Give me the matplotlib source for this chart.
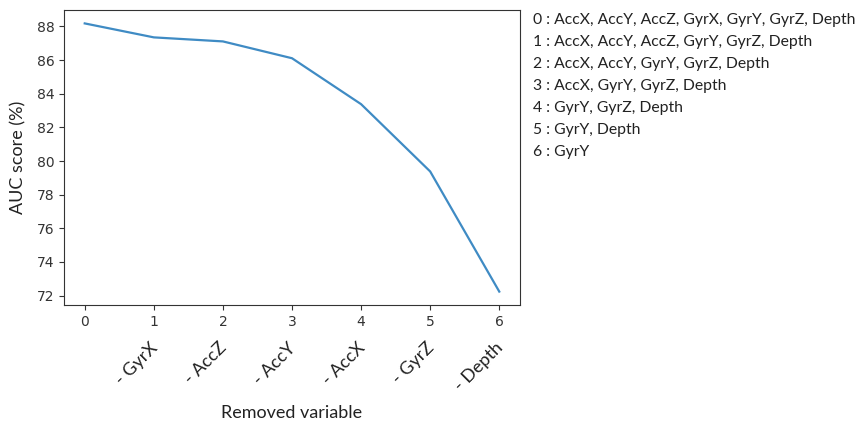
import matplotlib.pyplot as plt

steps = [0, 1, 2, 3, 4, 5, 6]
auc = [88.18, 87.35, 87.11, 86.11, 83.38, 79.38, 72.24]
removed = ['', '- GyrX', '- AccZ', '- AccY', '- AccX', '- GyrZ', '- Depth']
feature_sets = [
    '0 : AccX, AccY, AccZ, GyrX, GyrY, GyrZ, Depth',
    '1 : AccX, AccY, AccZ, GyrY, GyrZ, Depth',
    '2 : AccX, AccY, GyrY, GyrZ, Depth',
    '3 : AccX, GyrY, GyrZ, Depth',
    '4 : GyrY, GyrZ, Depth',
    '5 : GyrY, Depth',
    '6 : GyrY',
]

plt.rcParams['font.family'] = ['DejaVu Sans']

fig = plt.figure(figsize=(8.62, 4.25), dpi=100)
ax = fig.add_axes([64 / 862, 1 - 305 / 425, 456 / 862, 295 / 425])

ax.plot(steps, auc, color='#3f8bc4', lw=1.6)
ax.set_xticks(steps)
ax.set_yticks(range(72, 89, 2))
ax.tick_params(labelsize=10, colors='#333333')
for s in ax.spines.values():
    s.set_color('#333333')

label_font = dict(family=['Lato', 'DejaVu Sans'], color='#222222')
ax.set_ylabel('AUC score (%)', fontsize=13, labelpad=7, **label_font)

# rotated names of the removed variable, under the numeric ticks
for x, name in zip(steps, removed):
    if name:
        ax.annotate(name, xy=(x, 0), xycoords=('data', 'axes fraction'),
                    xytext=(5, -25), textcoords='offset points',
                    rotation=45, ha='right', va='top', fontsize=13,
                    **label_font)

fig.text(292 / 862, 1 - 413 / 425, 'Removed variable', ha='center', va='center',
         fontsize=13, **label_font)

for i, line in enumerate(feature_sets):
    fig.text(533 / 862, 1 - (20 + 22 * i) / 425, line, ha='left', va='center',
             fontsize=11.3, **label_font)

fig.savefig('out.png', dpi=100)
